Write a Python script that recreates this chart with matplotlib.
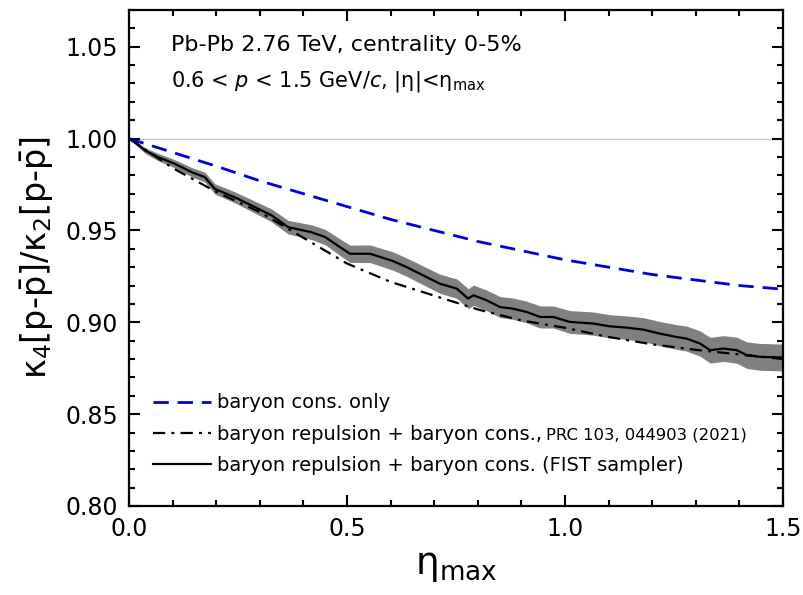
import numpy as np
import matplotlib
matplotlib.use('Agg')
import matplotlib.pyplot as plt

plt.rcParams['font.family'] = ['DejaVu Sans']
plt.rcParams['mathtext.fontset'] = 'dejavusans'

# baryon conservation only (blue dashed)
eta_bc = [0.0, 0.1, 0.2, 0.3, 0.4, 0.5, 0.6, 0.7, 0.8, 0.9, 1.0, 1.1, 1.2, 1.3, 1.4, 1.5]
k42_bc = [1.000, 0.9925, 0.985, 0.977, 0.970, 0.963, 0.956, 0.950, 0.944, 0.939,
          0.934, 0.930, 0.926, 0.923, 0.920, 0.918]

# baryon repulsion + baryon cons., PRC 103, 044903 (2021) (dash-dot)
eta_prc = [0.0, 0.1, 0.2, 0.3, 0.4, 0.5, 0.6, 0.7, 0.8, 0.9, 1.0, 1.1, 1.2, 1.3, 1.4, 1.5]
k42_prc = [1.000, 0.984, 0.971, 0.960, 0.946, 0.932, 0.922, 0.9145, 0.907, 0.901,
           0.897, 0.892, 0.888, 0.885, 0.8825, 0.880]

# baryon repulsion + baryon cons. (FIST sampler), with error band
eta_fist = [0.000, 0.014, 0.037, 0.067, 0.106, 0.144, 0.174, 0.197, 0.243, 0.281,
            0.327, 0.365, 0.419, 0.450, 0.484, 0.507, 0.553, 0.606, 0.637, 0.675,
            0.713, 0.752, 0.778, 0.790, 0.820, 0.851, 0.881, 0.912, 0.943, 0.973,
            1.011, 1.065, 1.103, 1.141, 1.180, 1.218, 1.256, 1.279, 1.310, 1.333,
            1.363, 1.394, 1.417, 1.447, 1.500]
k42_fist = [1.0000, 0.9980, 0.9935, 0.9899, 0.9862, 0.9817, 0.9790, 0.9726, 0.9680,
            0.9636, 0.9582, 0.9518, 0.9490, 0.9464, 0.9409, 0.9373, 0.9373, 0.9333,
            0.9300, 0.9255, 0.9210, 0.9183, 0.9129, 0.9147, 0.9120, 0.9083, 0.9074,
            0.9056, 0.9029, 0.9029, 0.9002, 0.8993, 0.8978, 0.8971, 0.8960, 0.8938,
            0.8920, 0.8911, 0.8884, 0.8848, 0.8857, 0.8848, 0.8821, 0.8812, 0.8808]
err_fist = [0.0005, 0.0010, 0.0015, 0.0020, 0.0022, 0.0025, 0.0027, 0.0028, 0.0030,
            0.0032, 0.0035, 0.0037, 0.0040, 0.0042, 0.0045, 0.0047, 0.0048, 0.0050,
            0.0050, 0.0051, 0.0052, 0.0053, 0.0054, 0.0055, 0.0056, 0.0057, 0.0058,
            0.0059, 0.0060, 0.0060, 0.0062, 0.0063, 0.0063, 0.0064, 0.0065, 0.0066,
            0.0067, 0.0068, 0.0069, 0.0070, 0.0070, 0.0071, 0.0072, 0.0073, 0.0073]

eta_fist = np.array(eta_fist)
k42_fist = np.array(k42_fist)
err_fist = np.array(err_fist)

fig = plt.figure(figsize=(8.04, 5.95), dpi=100)
ax = fig.add_axes([0.1604, 0.1496, 0.8135, 0.8336])

ax.axhline(1.0, color='#c8c8c8', lw=1.0, zorder=1)

ax.fill_between(eta_fist, k42_fist - err_fist, k42_fist + err_fist,
                color='#808080', lw=0, zorder=2)
ax.plot(eta_bc, k42_bc, color='#0000dd', lw=2.0, dashes=(5.5, 3.2),
        label='baryon cons. only', zorder=3)
ax.plot(eta_prc, k42_prc, color='black', lw=1.6, dashes=(5.5, 2.8, 1.3, 2.8),
        label='baryon repulsion + baryon cons.,', zorder=3)
ax.plot(eta_fist, k42_fist, color='black', lw=1.6,
        label='baryon repulsion + baryon cons. (FIST sampler)', zorder=4)

ax.set_xlim(0, 1.5)
ax.set_ylim(0.80, 1.07)
ax.set_xticks([0.0, 0.5, 1.0, 1.5])
ax.set_xticks(np.arange(0, 1.51, 0.1), minor=True)
ax.set_yticks([0.80, 0.85, 0.90, 0.95, 1.00, 1.05])
ax.set_yticks(np.arange(0.80, 1.071, 0.01), minor=True)
ax.xaxis.set_major_formatter(matplotlib.ticker.FormatStrFormatter('%.1f'))
ax.yaxis.set_major_formatter(matplotlib.ticker.FormatStrFormatter('%.2f'))
ax.tick_params(which='both', direction='in', top=True, right=True, width=1.5,
               labelsize=17, pad=8)
ax.tick_params(which='major', length=8)
ax.tick_params(which='minor', length=4.5)
for s in ax.spines.values():
    s.set_linewidth(1.6)

ax.set_xlabel(r'$\mathrm{\eta}_{\mathrm{max}}$', fontsize=27, labelpad=5)
ax.set_ylabel(r'$\mathrm{\kappa}_4$[p-$\bar{\mathrm{p}}$]/$\mathrm{\kappa}_2$[p-$\bar{\mathrm{p}}$]',
              fontsize=24, labelpad=7)

ax.text(0.064, 0.918, 'Pb-Pb 2.76 TeV, centrality 0-5%', transform=ax.transAxes,
        fontsize=16, va='baseline')
ax.text(0.064, 0.845, r'0.6 < $p$ < 1.5 GeV/$c$, |$\mathrm{\eta}$|<$\mathrm{\eta}_{\mathrm{max}}$',
        transform=ax.transAxes, fontsize=15, va='baseline')

leg = ax.legend(loc='lower left', bbox_to_anchor=(0.037, 0.062), frameon=False,
                fontsize=14, handlelength=3.0, handletextpad=0.3,
                labelspacing=0.64, borderpad=0, borderaxespad=0)
ax.annotate('PRC 103, 044903 (2021)', xy=(1, 0), xycoords=leg.get_texts()[1],
            xytext=(3, 1), textcoords='offset points', fontsize=11.8,
            va='bottom', ha='left', zorder=10)

fig.savefig('out.png', dpi=100)
